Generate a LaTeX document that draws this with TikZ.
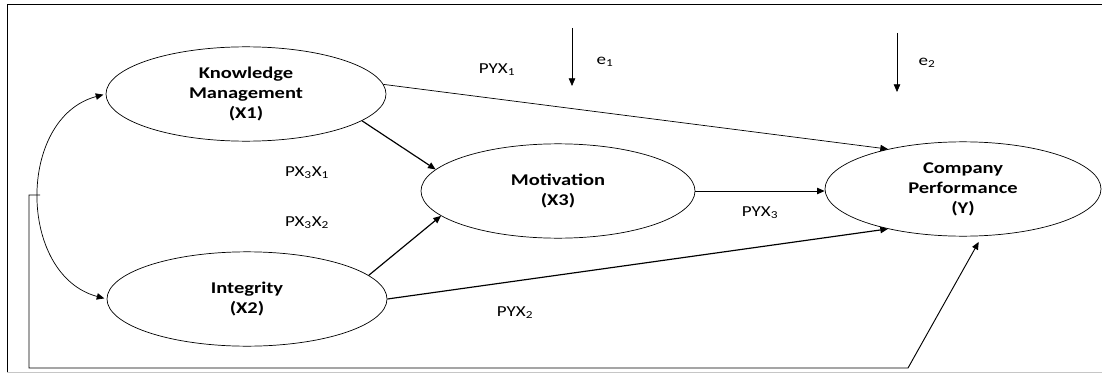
\documentclass[tikz,border=0pt]{standalone}
\usepackage{fontspec}
\setmainfont{Carlito}[FakeStretch=1.25]
\usepackage{tikz}
\usetikzlibrary{arrows.meta,shapes.geometric}

\begin{document}
\begin{tikzpicture}[
    >={Triangle[length=6.5pt,width=5.5pt]},
    var/.style={draw, ellipse, line width=0.6pt, inner sep=0pt,
      minimum width=8.4cm, minimum height=2.83cm, align=center,
      font=\fontsize{14}{17}\selectfont\bfseries},
    lbl/.style={font=\fontsize{13}{15}\selectfont},
    thin link/.style={->, line width=0.6pt},
    thick link/.style={->, line width=1pt}
  ]
  \useasboundingbox (0,0) rectangle (33.06,11.22);
  \draw[line width=0.8pt] (33.06,11.1) -- (0.21,11.1) -- (0.21,0.06);
  \draw[gray!45, line width=0.8pt] (0.21,0.06) -- (33.06,0.06);

  \node[var] (km) at (7.38,8.40) {Knowledge\\Management\\(X1)};
  \node[var] (int) at (7.41,2.25) {Integrity\\(X2)};
  \node[var, minimum width=8.22cm] (mot) at (16.74,5.49) {Motivation\\(X3)};
  \node[var, minimum width=8.28cm] (cp) at (28.89,5.55) {Company\\Performance\\(Y)};

  \node[lbl] (pyx1) at (14.91,9.12) {PYX\textsubscript{1}};
  \node[lbl] (px3x1) at (9.21,6.03) {PX\textsubscript{3}X\textsubscript{1}};
  \node[lbl] (px3x2) at (9.21,4.53) {PX\textsubscript{3}X\textsubscript{2}};
  \node[lbl] (pyx3) at (22.80,4.83) {PYX\textsubscript{3}};
  \node[lbl] (pyx2) at (15.45,1.83) {PYX\textsubscript{2}};
  \node[lbl] (e1) at (18.15,9.36) {e\textsubscript{1}};
  \node[lbl] (e2) at (27.81,9.33) {e\textsubscript{2}};

  \coordinate (e1top) at (17.16,10.38);
  \coordinate (e1end) at (17.16,8.64);
  \coordinate (e2top) at (26.91,10.23);
  \coordinate (e2end) at (26.91,8.46);
  \draw[thin link] (e1top) -- (e1end);
  \draw[thin link] (e2top) -- (e2end);

  \draw[thin link] (km.4) -- (cp.152);
  \draw[thick link] (km.347) -- (mot.170);
  \draw[thick link] (int.11) -- (mot.192);
  \draw[thick link] (int.east) -- (cp.208);
  \draw[->, line width=0.7pt] (mot.east) -- (mot.east -| cp.west);

  \draw[<->, line width=0.6pt, shorten <=2pt, shorten >=2pt]
    (km.west) to[out=195, in=165, looseness=1.15] (int.west);

  \coordinate (fb) at (1.20,5.37);
  \coordinate (fbturn) at (27.24,0.18);
  \draw[->, line width=0.8pt, shorten >=0.2cm]
    (fb) -- (0.87,5.37) |- (fbturn) -- (cp.292);
\end{tikzpicture}
\end{document}
